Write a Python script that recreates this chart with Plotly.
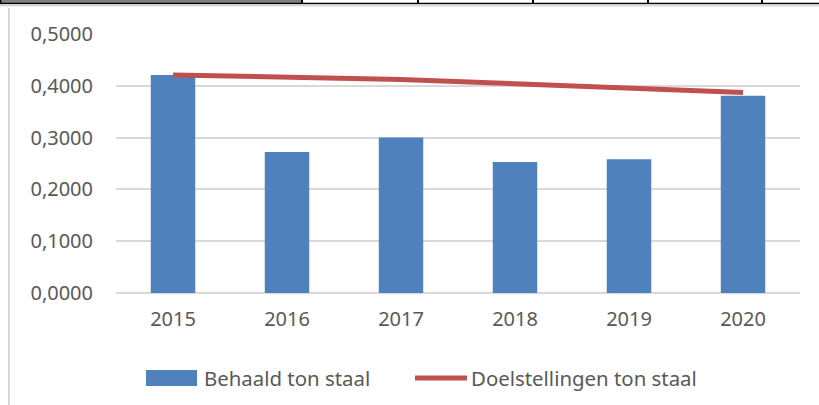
import plotly.graph_objects as go

years = ["2015", "2016", "2017", "2018", "2019", "2020"]
behaald = [0.421, 0.272, 0.300, 0.253, 0.258, 0.381]
doelstellingen = [0.421, 0.417, 0.412, 0.404, 0.396, 0.387]
y_ticks = [0.0, 0.1, 0.2, 0.3, 0.4, 0.5]
y_tick_labels = ["0,0000", "0,1000", "0,2000", "0,3000", "0,4000", "0,5000"]

BLUE = "#4F81BD"
RED = "#C0504D"
TXT = "#595959"
FONT = "Noto Sans"

W, H = 819, 405
L, R, T, B = 116, 19, 34, 112
PW, PH = W - L - R, H - T - B

def px(x):
    return (x - L) / PW

def py(y):
    return (H - B - y) / PH

fig = go.Figure()
fig.add_trace(go.Bar(x=years, y=behaald, name="Behaald ton staal",
                     marker=dict(color=BLUE, line=dict(width=0)), width=0.39))
fig.add_trace(go.Scatter(x=years, y=doelstellingen, name="Doelstellingen ton staal",
                         mode="lines", line=dict(color=RED, width=5)))

shapes = [
    # top border decoration
    dict(type="rect", xref="paper", yref="paper", x0=px(0), x1=px(302), y0=py(0), y1=py(3),
         fillcolor="#7F7F7F", line=dict(width=0), layer="above"),
    dict(type="line", xref="paper", yref="paper", x0=px(0), x1=px(W), y0=py(3.5), y1=py(3.5),
         line=dict(color="#000000", width=1.5)),
    dict(type="line", xref="paper", yref="paper", x0=px(0), x1=px(W), y0=py(5.5), y1=py(5.5),
         line=dict(color="#D9D9D9", width=2)),
    dict(type="line", xref="paper", yref="paper", x0=px(0.5), x1=px(0.5), y0=py(0), y1=py(3.5),
         line=dict(color="#000000", width=1.5)),
    dict(type="line", xref="paper", yref="paper", x0=px(9), x1=px(9), y0=py(8), y1=py(H),
         line=dict(color="#D9D9D9", width=2)),
    # legend symbols
    dict(type="rect", xref="paper", yref="paper", x0=px(146), x1=px(197), y0=py(370), y1=py(386),
         fillcolor=BLUE, line=dict(width=0)),
    dict(type="line", xref="paper", yref="paper", x0=px(415), x1=px(467), y0=py(378), y1=py(378),
         line=dict(color=RED, width=5)),
]
for xv in [302, 418, 533, 648, 762]:
    shapes.append(dict(type="line", xref="paper", yref="paper", x0=px(xv), x1=px(xv),
                       y0=py(0), y1=py(3.5), line=dict(color="#000000", width=2)))

annotations = [
    dict(text="Behaald ton staal", xref="paper", yref="paper", x=px(202), y=py(378),
         xanchor="left", yanchor="middle", showarrow=False, font=dict(size=20.4, color=TXT, family=FONT)),
    dict(text="Doelstellingen ton staal", xref="paper", yref="paper", x=px(469), y=py(378),
         xanchor="left", yanchor="middle", showarrow=False, font=dict(size=20.4, color=TXT, family=FONT)),
]

fig.update_layout(
    width=W, height=H,
    margin=dict(l=L, r=R, t=T, b=B, autoexpand=False),
    paper_bgcolor="white", plot_bgcolor="white",
    showlegend=False,
    font=dict(family=FONT, size=20, color=TXT),
    shapes=shapes, annotations=annotations,
    xaxis=dict(showgrid=False, showline=False, ticks="", ticklabelstandoff=12,
               tickfont=dict(size=20, color=TXT, family=FONT)),
    yaxis=dict(range=[0, 0.5], tickvals=y_ticks, ticktext=y_tick_labels,
               showgrid=True, gridcolor="#D9D9D9", gridwidth=1.5,
               zeroline=True, zerolinecolor="#D9D9D9", zerolinewidth=1.5,
               showline=False, ticks="", ticklabelstandoff=22,
               tickfont=dict(size=20, color=TXT, family=FONT)),
)

fig.write_html("out.html", config={"displayModeBar": False},
               post_script="document.body.style.margin='0';document.body.style.overflow='hidden';")
